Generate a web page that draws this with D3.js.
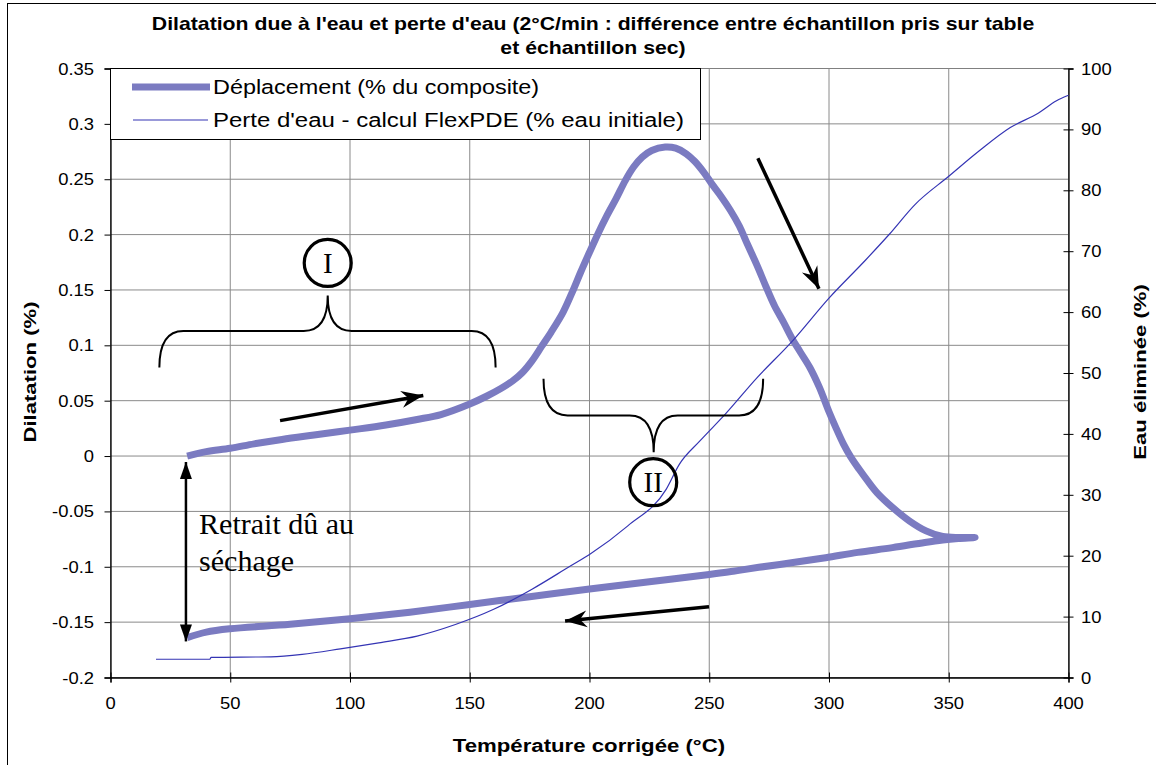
<!DOCTYPE html>
<html>
<head>
<meta charset="utf-8">
<script src="https://cdn.jsdelivr.net/npm/d3@7"></script>
<style>
  html, body { margin: 0; padding: 0; background: #fff; }
  svg { display: block; }
  text { font-family: "Liberation Sans", Arial, sans-serif; fill: #000; }
  .serif { font-family: "Liberation Serif", "Times New Roman", serif; }
</style>
</head>
<body>
<svg id="chart" width="1156" height="765"></svg>
<script>
// ---- Data -------------------------------------------------------------
// Displacement (% of composite) during heating
const heatTemp = [32, 40, 50, 60, 71.6, 85, 100, 115, 128, 138, 150, 157, 163, 168, 172, 176, 180, 184, 189, 193, 196.3, 200, 203.7, 207, 211, 215, 218.4, 222, 226, 231.6, 236, 240.4, 244, 247.8, 251, 255.1, 258.8, 262.5, 266, 270, 273.5, 277.2, 281, 284.6, 288, 292, 296, 300, 303, 306, 309, 312.6, 316, 320, 326.5, 333.5, 340.5, 347.5, 354.5, 361];
const heatDil  = [0.000, 0.004, 0.007, 0.011, 0.015, 0.019, 0.0234, 0.028, 0.033, 0.0375, 0.047, 0.054, 0.061, 0.068, 0.0755, 0.086, 0.099, 0.112, 0.130, 0.149, 0.166, 0.184, 0.2015, 0.216, 0.232, 0.249, 0.261, 0.270, 0.276, 0.279, 0.278, 0.273, 0.266, 0.256, 0.246, 0.234, 0.222, 0.208, 0.191, 0.172, 0.154, 0.136, 0.121, 0.106, 0.094, 0.080, 0.062, 0.040, 0.025, 0.011, -0.0005, -0.012, -0.022, -0.033, -0.0464, -0.0585, -0.0676, -0.0727, -0.0736, -0.0736];
// Displacement during cooling back down
const coolTemp = [361, 354, 347.5, 340, 326.5, 312, 298.6, 285, 270.7, 260, 250, 225, 200, 175, 150, 125, 100, 75, 50, 40, 32];
const coolDil  = [-0.0736, -0.0745, -0.0758, -0.078, -0.0827, -0.087, -0.0918, -0.0962, -0.1005, -0.104, -0.107, -0.1135, -0.120, -0.127, -0.134, -0.141, -0.147, -0.152, -0.156, -0.159, -0.164];
// Water loss computed with FlexPDE (% of initial water)
const waterTemp = [19, 41.5, 42, 67, 80, 96, 112, 128, 144, 160, 176, 192, 200, 216, 232, 237.5, 246, 256.6, 269.9, 284.6, 300, 315.4, 325, 336, 350, 362.5, 375.7, 387.5, 395, 400];
const waterLoss = [3.0, 3.0, 3.3, 3.4, 3.8, 4.7, 5.7, 6.8, 8.7, 11.2, 14.5, 18.3, 20.2, 24.9, 30.9, 35.0, 38.8, 43.2, 49.2, 55.2, 62.3, 68.6, 72.7, 77.7, 82.3, 86.4, 90.3, 92.7, 94.7, 95.6];

// Axis ticks and labels
const xTicks = [0, 50, 100, 150, 200, 250, 300, 350, 400];
const yLeftTicks = [-0.2, -0.15, -0.1, -0.05, 0, 0.05, 0.1, 0.15, 0.2, 0.25, 0.3, 0.35];
const yLeftLabels = ["-0.2", "-0.15", "-0.1", "-0.05", "0", "0.05", "0.1", "0.15", "0.2", "0.25", "0.3", "0.35"];
const yRightTicks = [0, 10, 20, 30, 40, 50, 60, 70, 80, 90, 100];

// Text
const titleLines = ["Dilatation due à l'eau et perte d'eau (2°C/min : différence entre échantillon pris sur table", "et échantillon sec)"];
const seriesNames = ["Déplacement (% du composite)", "Perte d'eau - calcul FlexPDE (% eau initiale)"];
const xTitle = "Température corrigée (°C)";
const yLeftTitle = "Dilatation (%)";
const yRightTitle = "Eau éliminée (%)";

// ---- Layout -----------------------------------------------------------
const svg = d3.select("#chart");
const plot = { left: 110.5, right: 1068.5, top: 68.5, bottom: 677.5 };
const SX = 1.2;          // horizontal stretch applied to chart text
const dispColor = "#7b7bc1";
const waterColor = "#3434b4";

const x = d3.scaleLinear().domain([0, 400]).range([plot.left, plot.right]);
const yL = d3.scaleLinear().domain([-0.2, 0.35]).range([plot.bottom, plot.top]);
const yR = d3.scaleLinear().domain([0, 100]).range([plot.bottom, plot.top]);

// outer chart frame
svg.append("rect").attr("x", 7.5).attr("y", 3.5).attr("width", 1160).attr("height", 770)
  .attr("fill", "#fff").attr("stroke", "#000").attr("stroke-width", 1);

// plot area
svg.append("rect").attr("x", plot.left).attr("y", plot.top)
  .attr("width", plot.right - plot.left).attr("height", plot.bottom - plot.top)
  .attr("fill", "#fff").attr("stroke", "#808080");

// grid
const grid = svg.append("g").attr("stroke", "#8a8a8a").attr("stroke-width", 1);
grid.selectAll("line.v").data(xTicks.slice(1, -1)).join("line")
  .attr("x1", d => x(d)).attr("x2", d => x(d)).attr("y1", plot.top).attr("y2", plot.bottom);
grid.selectAll("line.h").data(yLeftTicks.slice(1, -1)).join("line")
  .attr("y1", d => yL(d)).attr("y2", d => yL(d)).attr("x1", plot.left).attr("x2", plot.right);

// stretched text helper
function stext(g, tx, ty, str, opts) {
  const rot = opts.rotate ? ` rotate(${opts.rotate})` : "";
  const t = g.append("text")
    .attr("transform", `translate(${tx},${ty})${rot} scale(${opts.sx || SX},1)`)
    .attr("font-size", opts.size)
    .attr("text-anchor", opts.anchor || "start")
    .text(str);
  if (opts.bold) t.attr("font-weight", "bold");
  return t;
}

// axes
const axX = svg.append("g").attr("transform", `translate(0,${plot.bottom})`)
  .call(d3.axisBottom(x).tickValues(xTicks).tickSize(5).tickFormat(""));
axX.selectAll(".tick line").attr("y1", -5).attr("y2", 5);
const axL = svg.append("g").attr("transform", `translate(${plot.left},0)`)
  .call(d3.axisLeft(yL).tickValues(yLeftTicks).tickSize(6).tickFormat(""));
const axR = svg.append("g").attr("transform", `translate(${plot.right},0)`)
  .call(d3.axisRight(yR).tickValues(yRightTicks).tickSize(5).tickFormat(""));
axR.selectAll(".tick line").attr("x1", -5).attr("x2", 5);
[axX, axL, axR].forEach(a => {
  a.select(".domain").attr("stroke", "#000").attr("stroke-width", 1.3);
  a.selectAll(".tick line").attr("stroke", "#000");
});

// tick labels
const labels = svg.append("g");
xTicks.forEach(d => stext(labels, x(d), 709, String(d), { size: 16, sx: 1.15, anchor: "middle" }));
yLeftTicks.forEach((d, i) => stext(labels, 94, yL(d) + 6, yLeftLabels[i], { size: 16, sx: 1.15, anchor: "end" }));
yRightTicks.forEach(d => stext(labels, 1081, yR(d) + 6, String(d), { size: 16, sx: 1.15, anchor: "start" }));

// axis titles
stext(svg, 589, 752, xTitle, { size: 18.5, anchor: "middle", bold: true });
stext(svg, 36, 372, yLeftTitle, { size: 17, sx: 1.3, rotate: -90, anchor: "middle", bold: true });
stext(svg, 1146, 372, yRightTitle, { size: 17, sx: 1.3, rotate: -90, anchor: "middle", bold: true });

// title
titleLines.forEach((s, i) => stext(svg, 593, 30 + i * 24, s, { size: 17.7, anchor: "middle", bold: true }));

// series
const dispPts = heatTemp.map((t, i) => [t, heatDil[i]])
  .concat(coolTemp.slice(1).map((t, i) => [t, coolDil[i + 1]]));
const dispLine = d3.line().x(d => x(d[0])).y(d => yL(d[1])).curve(d3.curveCatmullRom.alpha(0.5));
svg.append("path").datum(dispPts).attr("d", dispLine)
  .attr("fill", "none").attr("stroke", dispColor).attr("stroke-width", 7).attr("stroke-linejoin", "round");

const waterPts = waterTemp.map((t, i) => [t, waterLoss[i]]);
svg.append("path").datum(waterPts)
  .attr("d", d3.line().x(d => x(d[0])).y(d => yR(d[1])).curve(d3.curveMonotoneX))
  .attr("fill", "none").attr("stroke", waterColor).attr("stroke-width", 1.2);

// legend
const leg = svg.append("g");
leg.append("rect").attr("x", plot.left).attr("y", plot.top).attr("width", 590).attr("height", 71)
  .attr("fill", "#fff").attr("stroke", "#000");
leg.append("line").attr("x1", 132).attr("x2", 210).attr("y1", 87).attr("y2", 87)
  .attr("stroke", dispColor).attr("stroke-width", 7);
leg.append("line").attr("x1", 133).attr("x2", 208).attr("y1", 120).attr("y2", 120)
  .attr("stroke", waterColor).attr("stroke-width", 1.2);
stext(leg, 213, 94, seriesNames[0], { size: 19.5 });
stext(leg, 213, 127, seriesNames[1], { size: 19.5, sx: 1.23 });

// ---- Annotations (placed in data units) ---------------------------------
const ann = svg.append("g");
const defs = svg.append("defs");
defs.append("marker").attr("id", "stealth").attr("viewBox", "-24 -10 26 20")
  .attr("refX", 0).attr("refY", 0).attr("markerWidth", 26).attr("markerHeight", 20)
  .attr("markerUnits", "userSpaceOnUse").attr("orient", "auto")
  .append("path").attr("d", "M0,0 L-22,-8.5 L-15,0 L-22,8.5 Z").attr("fill", "#000");
defs.append("marker").attr("id", "tri").attr("viewBox", "-18 -7 19 14")
  .attr("refX", 0).attr("refY", 0).attr("markerWidth", 19).attr("markerHeight", 14)
  .attr("markerUnits", "userSpaceOnUse").attr("orient", "auto-start-reverse")
  .append("path").attr("d", "M0,0 L-17,-6 L-17,6 Z").attr("fill", "#000");

function arrow(t0, d0, t1, d1) {
  ann.append("line").attr("x1", x(t0)).attr("y1", yL(d0)).attr("x2", x(t1)).attr("y2", yL(d1))
    .attr("stroke", "#000").attr("stroke-width", 3.5).attr("marker-end", "url(#stealth)");
}
arrow(70.8, 0.032, 130.6, 0.0546);
arrow(270.3, 0.269, 295.8, 0.151);
arrow(249.9, -0.136, 189.8, -0.149);

// drying shrinkage double arrow
ann.append("line").attr("x1", x(31.5)).attr("x2", x(31.5)).attr("y1", yL(-0.0054)).attr("y2", yL(-0.1674))
  .attr("stroke", "#000").attr("stroke-width", 2.5)
  .attr("marker-start", "url(#tri)").attr("marker-end", "url(#tri)");

// curly brace: ends at dEnd, bar at dBar, cusp at dCusp
function brace(t0, t1, tc, dEnd, dBar, dCusp) {
  const x0 = x(t0), x1 = x(t1), xc = x(tc);
  const ye = yL(dEnd), yb = yL(dBar), yc = yL(dCusp);
  const r = 24, rc = 24;
  const p = d3.path();
  p.moveTo(x0, ye);
  p.quadraticCurveTo(x0, yb, x0 + r, yb);
  p.lineTo(xc - rc, yb);
  p.quadraticCurveTo(xc, yb, xc, yc);
  p.quadraticCurveTo(xc, yb, xc + rc, yb);
  p.lineTo(x1 - r, yb);
  p.quadraticCurveTo(x1, yb, x1, ye);
  ann.append("path").attr("d", p.toString()).attr("fill", "none")
    .attr("stroke", "#000").attr("stroke-width", 2);
}
brace(20.4, 160.8, 90.7, 0.080, 0.113, 0.145);
brace(180.8, 272.5, 226.8, 0.0697, 0.0366, 0.0034);

function roman(t, d, str) {
  ann.append("circle").attr("cx", x(t)).attr("cy", yL(d)).attr("r", 23.5)
    .attr("fill", "none").attr("stroke", "#000").attr("stroke-width", 3.2);
  ann.append("text").attr("class", "serif").attr("x", x(t)).attr("y", yL(d) + 10)
    .attr("text-anchor", "middle").attr("font-size", 29).text(str);
}
roman(90.7, 0.1744, "I");
roman(226.6, -0.0236, "II");

const note = ["Retrait dû au", "séchage"];
note.forEach((s, i) => ann.append("text").attr("class", "serif")
  .attr("x", x(37)).attr("y", yL(i === 0 ? -0.0708 : -0.104)).attr("font-size", 30).text(s));
</script>
</body>
</html>
